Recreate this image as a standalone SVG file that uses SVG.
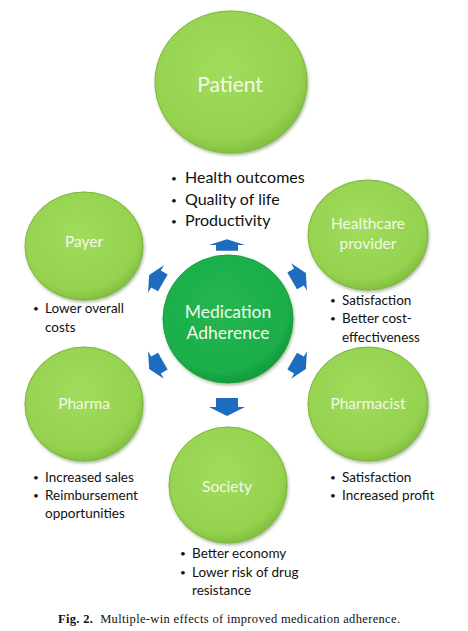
<svg xmlns="http://www.w3.org/2000/svg" width="468" height="631" viewBox="0 0 468 631">
<defs>
<radialGradient id="lg" cx="0.45" cy="0.4" r="0.6">
<stop offset="0" stop-color="#a2dc5c"/>
<stop offset="0.85" stop-color="#94d24f"/>
<stop offset="1" stop-color="#84c140"/>
</radialGradient>
<radialGradient id="dg" cx="0.45" cy="0.4" r="0.6">
<stop offset="0" stop-color="#22b651"/>
<stop offset="0.85" stop-color="#1cae4a"/>
<stop offset="1" stop-color="#129a3c"/>
</radialGradient>
<filter id="sh" x="-10%" y="-10%" width="125%" height="125%">
<feDropShadow dx="1" dy="2" stdDeviation="1.5" flood-color="#4a6a2a" flood-opacity="0.45"/>
</filter>
<path id="arr" d="M0,-9 L18,0 L11,0 L11,9 L-11,9 L-11,0 L-18,0 Z"/>
<style>
.c{fill:url(#lg);stroke:#7ab53c;stroke-width:1;filter:url(#sh)}
.m{fill:url(#dg);stroke:#16a040;stroke-width:1;filter:url(#sh)}
.ct{font-family:Lato,"Open Sans",sans-serif;fill:#f3f8ea;text-anchor:middle}
.b{font-family:Lato,"Open Sans",sans-serif;fill:#111;font-size:13.5px}
.p{font-family:Lato,"Open Sans",sans-serif;fill:#111;font-size:16px}
.d{font-size:10px}
.a{fill:#1d6cc0}
.cap{font-family:"Liberation Serif",serif;font-size:12.5px;fill:#111}
</style>
</defs>
<rect width="468" height="631" fill="#fff"/>
<g id="connectors">
<use href="#arr" class="a" transform="translate(227,245) scale(1,0.65)"/>
<use href="#arr" class="a" transform="translate(227,407) rotate(180)"/>
<use href="#arr" class="a" transform="translate(156,279) rotate(-60) scale(0.88)"/>
<use href="#arr" class="a" transform="translate(299,277) rotate(60) scale(0.88)"/>
<use href="#arr" class="a" transform="translate(299,365) rotate(120) scale(0.88)"/>
<use href="#arr" class="a" transform="translate(156,365) rotate(-120) scale(0.88)"/>
</g>
<g id="patient">
<ellipse class="c" cx="231" cy="82" rx="76" ry="71"/>
<text class="ct" x="230" y="92" font-size="21">Patient</text>
<text class="p"><tspan class="d" x="171" y="182">•</tspan><tspan x="185" y="183">Health outcomes</tspan><tspan class="d" x="171" y="204">•</tspan><tspan x="185" y="205">Quality of life</tspan><tspan class="d" x="171" y="225">•</tspan><tspan x="185" y="226">Productivity</tspan></text>
</g>
<g id="adherence">
<ellipse class="m" cx="228" cy="319" rx="65" ry="64"/>
<text class="ct" x="228" y="318" font-size="17.5">Medication</text>
<text class="ct" x="228" y="339" font-size="17.5">Adherence</text>
</g>
<g id="payer">
<ellipse class="c" cx="84" cy="246" rx="59" ry="54"/>
<text class="ct" x="84" y="247" font-size="15.5">Payer</text>
<text class="b"><tspan class="d" x="33" y="312">•</tspan><tspan x="45" y="313">Lower overall</tspan><tspan x="45" y="332">costs</tspan></text>
</g>
<g id="healthcare">
<ellipse class="c" cx="368" cy="235" rx="60" ry="55"/>
<text class="ct" x="368" y="229" font-size="15.5">Healthcare</text>
<text class="ct" x="368" y="249" font-size="15.5">provider</text>
<text class="b"><tspan class="d" x="330" y="304">•</tspan><tspan x="342" y="305">Satisfaction</tspan><tspan class="d" x="330" y="322">•</tspan><tspan x="342" y="323">Better cost-</tspan><tspan x="342" y="342">effectiveness</tspan></text>
</g>
<g id="pharma">
<ellipse class="c" cx="84" cy="404" rx="59" ry="57"/>
<text class="ct" x="84" y="409" font-size="15.5">Pharma</text>
<text class="b"><tspan class="d" x="33" y="481">•</tspan><tspan x="45" y="482">Increased sales</tspan><tspan class="d" x="33" y="499">•</tspan><tspan x="45" y="500">Reimbursement</tspan><tspan x="45" y="518">opportunities</tspan></text>
</g>
<g id="pharmacist">
<ellipse class="c" cx="368" cy="404" rx="60" ry="57"/>
<text class="ct" x="368" y="409" font-size="15.5">Pharmacist</text>
<text class="b"><tspan class="d" x="330" y="481">•</tspan><tspan x="342" y="482">Satisfaction</tspan><tspan class="d" x="330" y="499">•</tspan><tspan x="342" y="500">Increased profit</tspan></text>
</g>
<g id="society">
<ellipse class="c" cx="228" cy="485" rx="59" ry="58"/>
<text class="ct" x="227" y="492" font-size="15.5">Society</text>
<text class="b"><tspan class="d" x="180" y="557">•</tspan><tspan x="192" y="558">Better economy</tspan><tspan class="d" x="180" y="576">•</tspan><tspan x="192" y="577">Lower risk of drug</tspan><tspan x="192" y="595">resistance</tspan></text>
</g>
<text class="cap" x="58" y="623" textLength="342" lengthAdjust="spacing" xml:space="preserve"><tspan font-weight="bold">Fig. 2.</tspan>  Multiple-win effects of improved medication adherence.</text>
</svg>
